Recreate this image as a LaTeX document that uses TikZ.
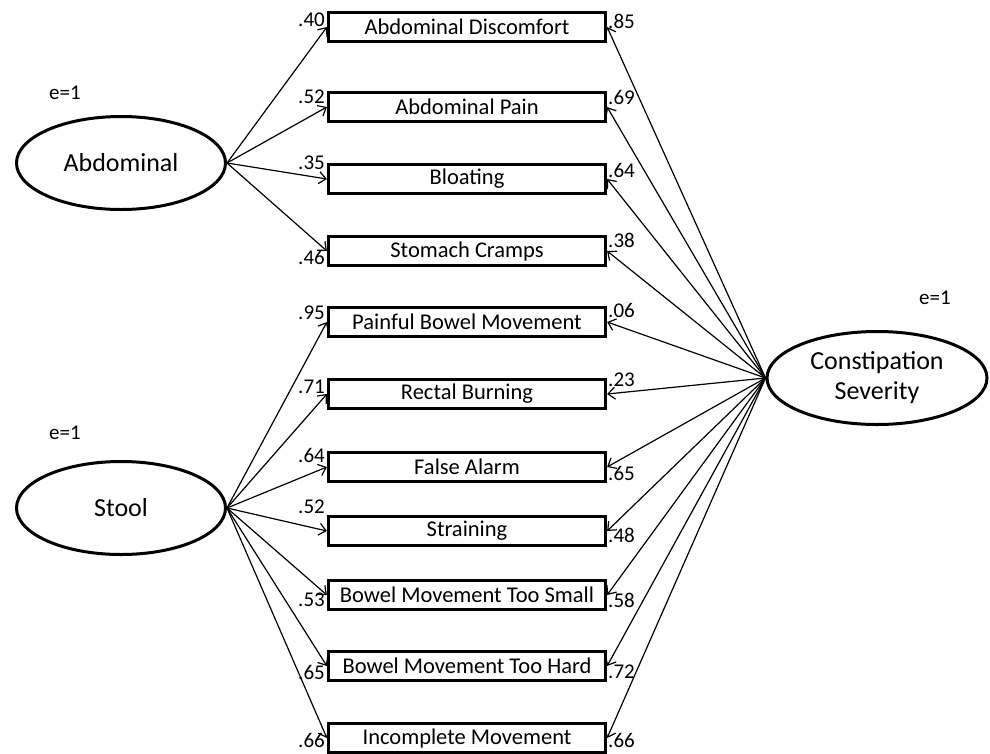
\documentclass[tikz,border=0pt]{standalone}
\usepackage{fontspec}
\setmainfont{Carlito}
\usetikzlibrary{shapes.geometric,arrows.meta}
\begin{document}
\begin{tikzpicture}[x=1pt,y=-1pt,
 latent/.style={ellipse,draw,line width=3pt,minimum width=209pt,minimum height=93pt,inner sep=0pt,font=\fontsize{26}{30}\selectfont,align=center},
 obs/.style={rectangle,draw,line width=3.2pt,minimum width=277pt,minimum height=29pt,inner sep=0pt,font=\fontsize{22.5}{24}\selectfont},
 coef/.style={font=\fontsize{21}{22}\selectfont,inner sep=0pt},
 pathline/.style={line width=1.2pt,-{Straight Barb[length=7pt,width=12pt,line width=1.2pt]}}
]
\useasboundingbox[fill=white] (0,0) rectangle (990,753);

\node[latent] (abd) at (121,163) {Abdominal};
\node[latent] (stool) at (121,508) {Stool};
\node[latent,minimum width=220pt] (cs) at (877,378) {Constipation\\Severity};

\node[coef] (e1) at (65,93) {e=1};
\node[coef] (e2) at (65,433) {e=1};
\node[coef] (e3) at (935,298) {e=1};

\foreach \n/\y/\t in {1/27/Abdominal Discomfort, 2/107/Abdominal Pain, 3/179/Bloating, 4/251/Stomach Cramps, 5/322/Painful Bowel Movement, 6/394/Rectal Burning, 7/467/False Alarm, 8/531/Straining, 9/595/Bowel Movement Too Small, 10/666/Bowel Movement Too Hard, 11/738/Incomplete Movement}
  \node[obs] (b\n) at (467,\y) {\t};

\foreach \n in {1,...,4} \draw[pathline] (abd.east) -- (b\n.west);
\foreach \n in {5,...,11} \draw[pathline] (stool.east) -- (b\n.west);
\foreach \n in {1,...,11} \draw[pathline] (cs.west) -- (b\n.east);

\foreach \n/\y/\t in {1/20/.40, 2/97/.52, 3/163/.35, 4/257/.46, 5/313/.95, 6/387/.71, 7/455/.64, 8/507/.52, 9/600/.53, 10/672/.65, 11/740/.66}
  \node[coef,anchor=east] (l\n) at (325,\y) {\t};

\foreach \n/\y/\t in {1/21/.85, 2/97/.69, 3/170/.64, 4/240/.38, 5/310/.06, 6/380/.23, 7/473/.65, 8/535/.48, 9/600/.58, 10/672/.72, 11/740/.66}
  \node[coef,anchor=west] (r\n) at (608,\y) {\t};
\end{tikzpicture}
\end{document}
